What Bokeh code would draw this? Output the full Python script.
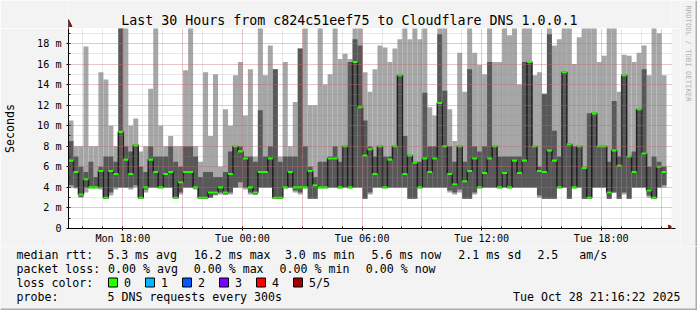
import math
from bokeh.plotting import figure
from bokeh.layouts import column, row
from bokeh.models import FixedTicker, Arrow, NormalHead, Range1d, ColumnDataSource
from bokeh.core.properties import value
from bokeh.embed import file_html
from bokeh.resources import INLINE

# ---------------- data (values in ms, 15-minute bins, hours since Mon 00:00) ----------------
t_start = 15 + 16/60 + 22/3600   # Mon 15:16:22
bin_hours = 0.25

hi = [10.5, 8.0, 8.0, 17.7, 8.0, 8.0, 15.2, 14.5, 10.0, 8.0, 19.5, 19.5, 10.0, 10.7, 7.5, 8.0, 13.6, 19.5, 10.0, 8.0, 9.0, 8.0, 8.0, 15.4,
      19.5, 8.0, 6.5, 15.2, 9.0, 15.0, 6.0, 11.6, 10.0, 14.9, 16.2, 11.0, 15.5, 7.0, 19.5, 14.9, 17.8, 15.5, 7.0, 16.2, 8.0, 12.3, 17.5, 19.5,
      12.0, 12.0, 19.5, 14.0, 15.0, 19.5, 16.5, 17.0, 16.5, 19.5, 19.5, 15.2, 13.3, 15.5, 17.8, 17.6, 16.2, 17.5, 18.4, 19.5, 18.4, 19.5, 18.4, 19.5,
      11.8, 11.0, 19.5, 19.5, 11.6, 8.5, 17.1, 13.3, 19.5, 17.1, 15.9, 15.0, 19.5, 16.2, 16.2, 19.5, 18.8, 19.5, 14.0, 19.5, 19.5, 14.9, 15.2, 13.1,
      19.5, 17.8, 18.4, 19.5, 19.5, 16.0, 18.6, 19.5, 19.5, 19.5, 16.2, 16.8, 19.5, 19.5, 13.3, 16.9, 16.8, 16.2, 17.1, 17.8, 14.9, 19.5, 19.0, 14.9]

dhi = [8.5, 7.0, 6.0, 5.5, 6.5, 5.0, 6.0, 7.0, 7.0, 6.5, 19.5, 8.0, 7.5, 8.1, 6.0, 5.5, 8.0, 7.0, 7.0, 7.0, 8.0, 6.5, 6.0, 8.0,
       8.0, 7.0, 5.0, 5.5, 5.5, 5.0, 5.0, 5.5, 7.5, 8.0, 8.0, 7.0, 7.0, 6.5, 11.5, 7.0, 8.0, 15.5, 6.5, 7.0, 7.0, 7.0, 17.5, 8.0,
       6.0, 5.0, 6.5, 6.5, 7.0, 8.0, 6.5, 8.0, 16.2, 18.4, 17.8, 10.5, 8.0, 7.0, 8.0, 7.0, 7.0, 8.0, 14.9, 9.0, 7.1, 6.5, 6.5, 13.2,
       8.0, 8.0, 18.9, 13.4, 8.0, 6.5, 8.0, 6.5, 15.5, 8.0, 7.5, 8.0, 16.2, 8.0, 7.0, 7.0, 7.0, 7.0, 7.0, 16.2, 16.2, 8.0, 6.0, 13.1,
       18.9, 9.5, 7.0, 15.2, 8.2, 8.0, 8.0, 6.0, 11.2, 11.2, 8.0, 8.0, 6.5, 12.4, 7.0, 14.9, 7.0, 7.5, 11.6, 15.5, 6.0, 7.0, 6.5, 6.0]

med = [6.6, 5.5, 3.3, 4.8, 4.0, 4.0, 5.6, 3.0, 5.6, 5.3, 9.4, 6.7, 5.3, 8.1, 3.0, 4.0, 6.7, 5.5, 4.0, 5.3, 5.5, 3.0, 4.5, 5.5,
       5.5, 4.0, 3.0, 3.0, 3.5, 3.5, 4.0, 3.5, 5.3, 8.0, 7.5, 6.8, 4.0, 3.5, 5.5, 5.5, 6.8, 3.0, 3.0, 4.0, 5.5, 4.0, 4.0, 4.0,
       5.6, 4.2, 4.0, 4.0, 6.8, 6.8, 4.0, 8.0, 4.0, 16.2, 11.8, 7.1, 7.7, 5.3, 8.0, 4.0, 6.7, 8.0, 14.9, 5.3, 7.1, 6.4, 4.0, 6.8,
       5.5, 6.8, 12.2, 8.0, 5.3, 4.3, 8.0, 4.6, 5.6, 6.8, 4.0, 5.4, 6.8, 8.0, 4.0, 5.4, 4.0, 6.6, 5.4, 6.6, 16.2, 8.0, 5.6, 5.5,
       7.6, 6.6, 4.0, 15.2, 8.2, 4.0, 8.0, 5.9, 3.0, 11.2, 8.0, 8.0, 3.5, 7.6, 6.1, 14.9, 7.0, 5.5, 11.6, 7.3, 3.7, 3.0, 6.0, 5.5]

dlo = [4.2, 4.0, 3.1, 4.0, 4.0, 4.0, 4.0, 2.9, 3.5, 4.0, 4.0, 4.0, 4.0, 4.2, 2.9, 3.8, 4.0, 4.0, 4.0, 4.0, 4.0, 3.0, 3.5, 4.0,
       4.0, 4.0, 2.9, 2.9, 3.0, 3.3, 3.5, 3.3, 3.5, 4.0, 4.5, 4.0, 3.5, 3.3, 4.0, 4.0, 4.0, 2.9, 2.9, 4.0, 4.0, 3.7, 3.5, 4.0,
       2.9, 2.9, 4.0, 4.0, 4.0, 4.0, 4.0, 4.0, 4.0, 4.0, 4.0, 2.9, 3.5, 4.0, 4.0, 4.0, 4.0, 4.0, 4.0, 4.0, 2.9, 2.9, 4.0, 4.0,
       4.0, 4.0, 4.0, 4.0, 3.7, 3.5, 3.8, 2.9, 2.9, 3.5, 4.0, 4.0, 4.0, 4.0, 4.0, 4.0, 4.0, 4.0, 4.0, 4.0, 4.0, 4.0, 3.2, 2.9,
       2.9, 2.9, 4.0, 4.0, 2.9, 4.0, 4.0, 2.9, 2.9, 4.0, 4.0, 4.0, 2.9, 3.5, 2.9, 3.5, 2.9, 4.0, 4.0, 4.0, 3.2, 2.9, 4.0, 4.2]

lo = [4.0, 3.9, 3.0, 3.5, 4.0, 4.0, 3.8, 2.9, 3.2, 3.8, 4.0, 4.0, 3.8, 4.0, 2.9, 3.5, 4.0, 4.0, 4.0, 4.0, 4.0, 2.9, 3.3, 4.0,
      4.0, 3.8, 2.9, 2.9, 3.0, 3.2, 3.3, 3.3, 3.3, 4.0, 4.0, 3.8, 3.3, 3.3, 4.0, 4.0, 4.0, 2.9, 2.9, 4.0, 4.0, 3.5, 3.3, 4.0,
      2.9, 2.9, 4.0, 4.0, 4.0, 4.0, 4.0, 4.0, 4.0, 4.0, 4.0, 2.9, 3.3, 4.0, 4.0, 4.0, 4.0, 4.0, 4.0, 4.0, 2.9, 2.9, 4.0, 4.0,
      4.0, 4.0, 4.0, 4.0, 3.5, 3.3, 3.5, 2.9, 2.9, 3.3, 4.0, 4.0, 4.0, 4.0, 4.0, 4.0, 4.0, 4.0, 4.0, 4.0, 4.0, 4.0, 3.0, 2.9,
      2.9, 2.9, 4.0, 4.0, 2.9, 4.0, 4.0, 2.9, 2.9, 4.0, 4.0, 4.0, 2.9, 3.5, 2.9, 3.3, 2.9, 4.0, 4.0, 4.0, 3.0, 2.9, 4.0, 4.0]

y_ticks = [0, 2, 4, 6, 8, 10, 12, 14, 16, 18]
y_tick_labels = ["0", "2 m", "4 m", "6 m", "8 m", "10 m", "12 m", "14 m", "16 m", "18 m"]
x_ticks = [18, 24, 30, 36, 42]
x_tick_labels = ["Mon 18:00", "Tue 00:00", "Tue 06:00", "Tue 12:00", "Tue 18:00"]

loss_names = ["0", "1", "2", "3", "4", "5/5"]
loss_colors = ["#26ff00", "#00b8ff", "#0059ff", "#7e00ff", "#ff0000", "#a10000"]

title_text = "Last 30 Hours from c824c51eef75 to Cloudflare DNS 1.0.0.1"
watermark_text = "RRDTOOL / TOBI OETIKER"
legend_rows = [
    [("median rtt:", 16), ("5.3 ms avg", 106.7), ("16.2 ms max", 193.3), ("3.0 ms min", 284.4),
     ("5.6 ms now", 371), ("2.1 ms sd", 457.8), ("2.5", 536.9), ("am/s", 578.7)],
    [("packet loss:", 16), ("0.00 % avg", 107.6), ("0.00 % max", 193.3), ("0.00 % min", 279.1), ("0.00 % now", 365.3)],
]
probe_label = "probe:"
loss_label = "loss color:"
probe_text = "5 DNS requests every 300s"
stamp_text = "Tue Oct 28 21:16:22 2025"

n = len(med)
left = [t_start + i * bin_hours for i in range(n)]
right = [t_start + (i + 1) * bin_hours for i in range(n)]

# ---------------- geometry ----------------
W, H = 697, 310
FL, FR, FT, FB = 66, 671, 28, 228      # chart frame edges (page px)
CW = 680                               # width of the chart column
LEG_TOP = 246                          # legend strip starts here
PX_PER_H = 20.0
PX_PER_MS = 10.28
x0 = t_start
x1 = t_start + (FR - FL) / PX_PER_H
y1 = (FB - FT) / PX_PER_MS
BG = "#f3f3f3"
EDGE = "#acacac"
FONT = "DejaVu Sans Mono"
arrow_col = "#7f1f1f"

def strip(w, h, x_lo, x_hi):
    f = figure(width=w, height=h, output_backend="svg", toolbar_location=None,
               x_range=Range1d(x_lo, x_hi), y_range=Range1d(0, h),
               x_axis_location=None, y_axis_location=None,
               min_border_left=0, min_border_right=0, min_border_top=0, min_border_bottom=0)
    f.background_fill_color = BG
    f.border_fill_color = BG
    f.outline_line_color = None
    f.xgrid.visible = False
    f.ygrid.visible = False
    return f

# ---------------- title strip (its frame gets aligned with the chart frame, 66..671) ----------------
ts = strip(CW, FT, FL, FR)
def ty(py):
    return FT - py
ts.text(x=[347.8], y=[ty(20)], text=[title_text], text_font=value(FONT), text_font_size=value("13.3px"),
        text_align="center", text_baseline="middle", text_color="black")
ts.add_layout(Arrow(x_start=FL, y_start=0, x_end=FL, y_end=ty(19), line_color="black", line_width=1,
                    end=NormalHead(size=7, fill_color=arrow_col, line_color=arrow_col)))

# ---------------- chart ----------------
p = figure(width=CW, height=LEG_TOP - FT, output_backend="svg", toolbar_location=None,
           x_range=Range1d(x0, x1), y_range=Range1d(0, y1),
           min_border_left=FL, min_border_right=CW - FR, min_border_top=0, min_border_bottom=LEG_TOP - FB)
p.background_fill_color = "white"
p.border_fill_color = BG
p.outline_line_color = None

src = ColumnDataSource(dict(left=left, right=right, hi=hi, dhi=dhi, med=med, dlo=dlo, lo=lo,
                            gb=[m - 0.1 for m in med], gt=[m + 0.1 for m in med]))

p.quad(left="left", right="right", bottom="lo", top="hi", source=src, fill_color="#a6a6a6", line_color=None)
p.quad(left="left", right="right", bottom="dlo", top="dhi", source=src, fill_color="#585858", line_color=None)
p.step(x=left + [right[-1]], y=med + [med[-1]], mode="after", line_color="#1e1e1e", line_width=1.5)
p.quad(left="left", right="right", bottom="gb", top="gt", source=src, fill_color=loss_colors[0], line_color=None)

hours = list(range(16, 46))
p.xaxis.ticker = FixedTicker(ticks=x_ticks, minor_ticks=hours)
p.xaxis.major_label_overrides = {t: l for t, l in zip(x_ticks, x_tick_labels)}
p.yaxis.ticker = FixedTicker(ticks=y_ticks, minor_ticks=list(range(0, 20)))
p.yaxis.major_label_overrides = {t: l for t, l in zip(y_ticks, y_tick_labels)}
for ax in (p.xaxis, p.yaxis):
    ax.axis_line_color = "black"
    ax.axis_line_width = 1
    ax.major_tick_line_color = "black"
    ax.minor_tick_line_color = "black"
    ax.major_label_text_font = FONT
    ax.major_label_text_font_size = "10.15px"
    ax.major_label_text_color = "black"
    ax.major_tick_in = 2
    ax.major_tick_out = 2
    ax.minor_tick_in = 2
    ax.minor_tick_out = 0
p.xaxis.major_label_standoff = 2
p.yaxis.major_label_standoff = 5
p.yaxis.axis_label = "Seconds"
p.yaxis.axis_label_text_font = FONT
p.yaxis.axis_label_text_font_size = "11.6px"
p.yaxis.axis_label_text_font_style = "normal"
p.yaxis.axis_label_text_color = "black"
p.yaxis.axis_label_standoff = 17

p.xgrid.ticker = FixedTicker(ticks=list(range(18, 46, 3)), minor_ticks=hours)
p.ygrid.ticker = FixedTicker(ticks=list(range(2, 20, 2)), minor_ticks=list(range(1, 20)))
for g in (p.xgrid, p.ygrid):
    g.grid_line_color = "#de5050"
    g.grid_line_alpha = 0.45
    g.grid_line_dash = "1 1"
    g.minor_grid_line_color = "#8f8f8f"
    g.minor_grid_line_alpha = 0.4
    g.minor_grid_line_dash = "1 1"
    g.level = "overlay"

p.add_layout(Arrow(x_start=x1, y_start=0, x_end=x0 + (675 - FL) / PX_PER_H, y_end=0, line_color="black", line_width=1,
                   end=NormalHead(size=7, fill_color=arrow_col, line_color=arrow_col)))

# ---------------- watermark strip ----------------
wm = strip(W - CW, LEG_TOP, CW, W)
wm.text(x=[688], y=[LEG_TOP - 5], text=[watermark_text], text_font=value(FONT), text_font_size=value("7.25px"),
        text_align="left", text_baseline="middle", text_color="#b4b4b4", angle=-math.pi / 2)
wm.quad(left=[W - 2], right=[W], bottom=[0], top=[LEG_TOP], fill_color=EDGE, line_color=None)

# ---------------- legend strip ----------------
lg = strip(W, H - LEG_TOP, 0, W)
def ly(py):
    return H - py

row_y = [254, 268, 282, 296]
tx, tyy, tt = [], [], []
for r, items in enumerate(legend_rows):
    for text, px in items:
        tx.append(px); tyy.append(ly(row_y[r])); tt.append(text)
tx += [16, 16, 107]; tyy += [ly(row_y[2]), ly(row_y[3]), ly(row_y[3])]; tt += [loss_label, probe_label, probe_text]
box_l, box_r, box_c = [], [], []
for i, (nm, col) in enumerate(zip(loss_names, loss_colors)):
    bx = 108 + 37 * i
    box_l.append(bx); box_r.append(bx + 9); box_c.append(col)
    tx.append(bx + 15.5); tyy.append(ly(row_y[2])); tt.append(nm)
lg.text(x=tx, y=tyy, text=tt, text_font=value(FONT), text_font_size=value("11.6px"),
        text_align="left", text_baseline="middle", text_color="black")
lg.text(x=[680], y=[ly(row_y[3])], text=[stamp_text], text_font=value(FONT), text_font_size=value("11.6px"),
        text_align="right", text_baseline="middle", text_color="black")
lg.quad(left=box_l, right=box_r, top=[ly(row_y[2] - 4.5)] * 6, bottom=[ly(row_y[2] + 4.5)] * 6,
        fill_color=box_c, line_color="black", line_width=1)
lg.quad(left=[0, W - 2], right=[W, W], bottom=[0, 0], top=[2, H - LEG_TOP], fill_color=EDGE, line_color=None)

layout = column(row(column(ts, p), wm), lg)
open("out.html", "w").write(file_html(layout, INLINE))
